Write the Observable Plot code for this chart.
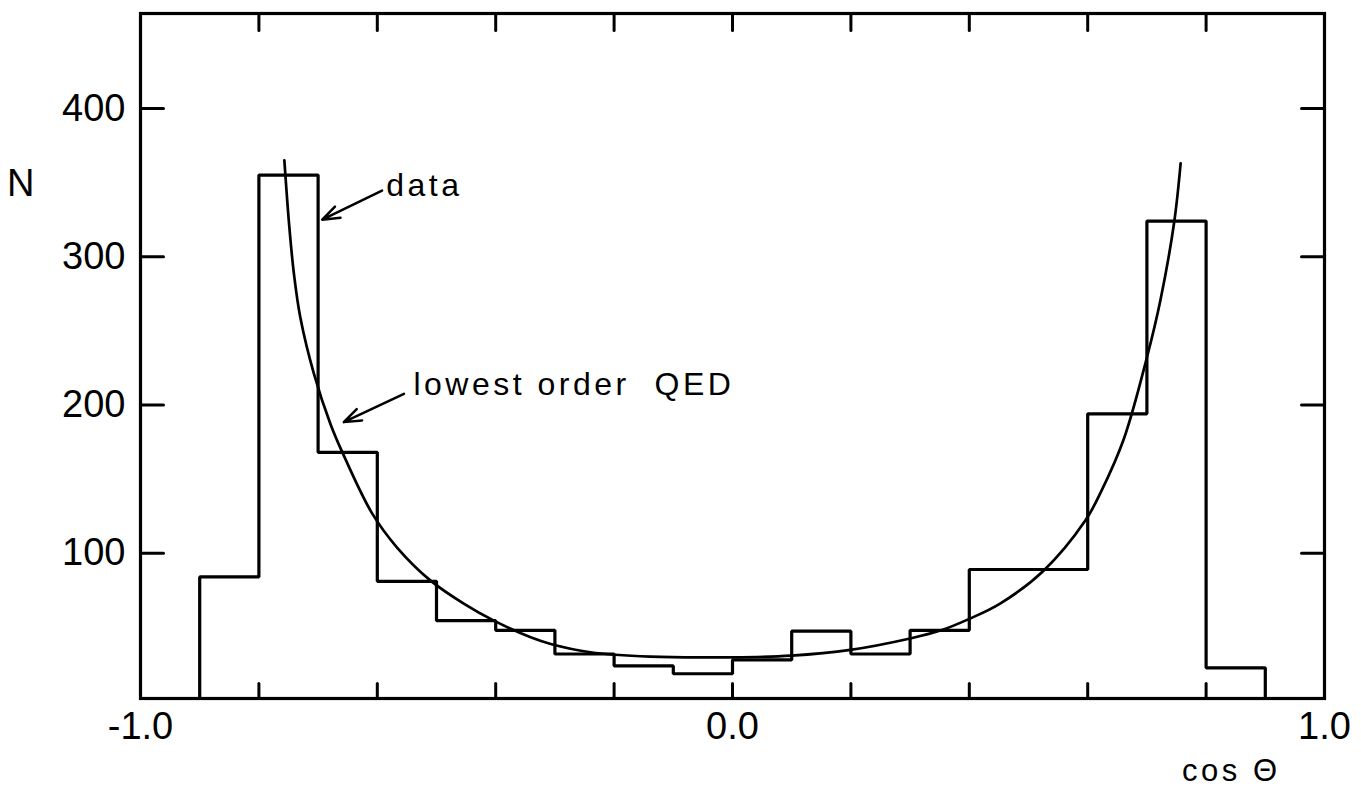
<!DOCTYPE html>
<html>
<head>
<meta charset="utf-8">
<script src="https://cdn.jsdelivr.net/npm/d3@7"></script>
<script src="https://cdn.jsdelivr.net/npm/@observablehq/plot@0.6"></script>
<style>
  html, body { margin: 0; padding: 0; background: #fff; }
  #chart svg { display: block; }
</style>
</head>
<body>
<div id="chart"></div>
<script>
// ---- data ----
const binStart = [-0.9, -0.8, -0.7, -0.6, -0.5, -0.4, -0.3, -0.2, -0.1, 0.0, 0.1, 0.2, 0.3, 0.4, 0.5, 0.6, 0.7, 0.8];
const binWidth = 0.1;
const counts   = [84, 355, 168, 81, 54.5, 48, 32, 24, 18.7, 28, 47.4, 32, 48, 89, 89, 194, 324, 22.7];

// lowest order QED curve
const qedCos = [-0.757, -0.749, -0.741, -0.730, -0.707, -0.679, -0.659, -0.609, -0.567, -0.510, -0.454, -0.403, -0.341, -0.307, -0.240, -0.139, 0.0, 0.099, 0.199, 0.300, 0.351, 0.400, 0.452, 0.525, 0.596, 0.622, 0.661, 0.700, 0.723, 0.746, 0.757];
const qedN   = [365, 322, 289, 259, 221, 187, 168, 127, 104, 81.5, 66, 54.5, 43.3, 38.8, 33.2, 30.2, 29.8, 30.9, 34.8, 42.5, 47.8, 55.7, 66, 88, 122, 141, 177, 232, 271, 323, 363];

// axes
const xDomain = [-1, 1];
const yDomain = [2, 464];
const xTicks = [-0.8, -0.6, -0.4, -0.2, 0, 0.2, 0.4, 0.6, 0.8];
const xLabelValues = [-1, 0, 1];
const xTickLabels = ["-1.0", "0.0", "1.0"];
const yTicks = [100, 200, 300, 400];
const yTickLabels = ["100", "200", "300", "400"];

// annotations
const annText = ["data", "lowest order\u00a0\u00a0QED"];
const annX = [-0.585, -0.539];
const annY = [340.6, 206.4];
const arrowX1 = [-0.592, -0.555];
const arrowY1 = [344.6, 207.5];
const arrowX2 = [-0.693, -0.6566];
const arrowY2 = [324.9, 188.4];

// ---- derived tables ----
const outline = [{x: binStart[0], y: 0}];
binStart.forEach((s, i) => {
  outline.push({x: s, y: counts[i]}, {x: s + binWidth, y: counts[i]});
});
outline.push({x: binStart[binStart.length - 1] + binWidth, y: 0});

const qed = qedCos.map((c, i) => ({c, n: qedN[i]}));
const ann = annText.map((t, i) => ({t, x: annX[i], y: annY[i]}));
const arrows = arrowX1.map((x1, i) => ({x1, y1: arrowY1[i], x2: arrowX2[i], y2: arrowY2[i]}));

const lineShape = {draw(context, l) { context.moveTo(0, 0); context.lineTo(0, -l); }};
const font = "'Liberation Sans', Arial, Helvetica, sans-serif";

const chart = Plot.plot({
  width: 1361,
  height: 791,
  marginLeft: 140,
  marginRight: 37,
  marginTop: 13,
  marginBottom: 93,
  x: {domain: xDomain, axis: null},
  y: {domain: yDomain, axis: null},
  style: {fontFamily: font, background: "#fff", color: "#000"},
  marks: [
    Plot.line(outline, {x: "x", y: "y", stroke: "#000", strokeWidth: 3.2, clip: true, strokeLinejoin: "miter"}),
    Plot.line(qed, {x: "c", y: "n", curve: "catmull-rom", stroke: "#000", strokeWidth: 2.7}),
    Plot.frame({stroke: "#000", strokeWidth: 3.2}),
    Plot.vector(yTicks, {x: xDomain[0], y: d => d, rotate: 90, length: 23, anchor: "start", shape: lineShape, stroke: "#000", strokeWidth: 3}),
    Plot.vector(yTicks, {x: xDomain[1], y: d => d, rotate: -90, length: 23, anchor: "start", shape: lineShape, stroke: "#000", strokeWidth: 3}),
    Plot.vector(xTicks, {x: d => d, y: yDomain[0], rotate: 0, length: 15, anchor: "start", shape: lineShape, stroke: "#000", strokeWidth: 3}),
    Plot.vector(xTicks, {x: d => d, y: yDomain[1], rotate: 180, length: 17, anchor: "start", shape: lineShape, stroke: "#000", strokeWidth: 3}),
    Plot.axisY(yTicks, {anchor: "left", tickSize: 0, tickPadding: 15, fontSize: 38, label: null,
      tickFormat: d => yTickLabels[yTicks.indexOf(d)]}),
    Plot.axisX(xLabelValues, {anchor: "bottom", tickSize: 0, tickPadding: 14, fontSize: 38, label: null,
      tickFormat: d => xTickLabels[xLabelValues.indexOf(d)]}),
    Plot.text(["N"], {x: xDomain[0], y: 349, dx: -118, text: d => d, fontSize: 38, textAnchor: "middle", lineAnchor: "middle"}),
    Plot.text(["cos \u0398"], {frameAnchor: "bottom-right", dx: -44, dy: 82, text: d => d, fontSize: 31, textAnchor: "end", lineAnchor: "bottom"}),
    Plot.text(ann, {x: "x", y: "y", text: "t", fontSize: 32, textAnchor: "start", lineAnchor: "bottom"}),
    Plot.arrow(arrows, {x1: "x1", y1: "y1", x2: "x2", y2: "y2", stroke: "#000", strokeWidth: 2.5, headLength: 11, headAngle: 40})
  ]
});

d3.select(chart).selectAll('g[aria-label="text"] text').attr("letter-spacing", 3.5);
document.getElementById("chart").appendChild(chart);
</script>
</body>
</html>
